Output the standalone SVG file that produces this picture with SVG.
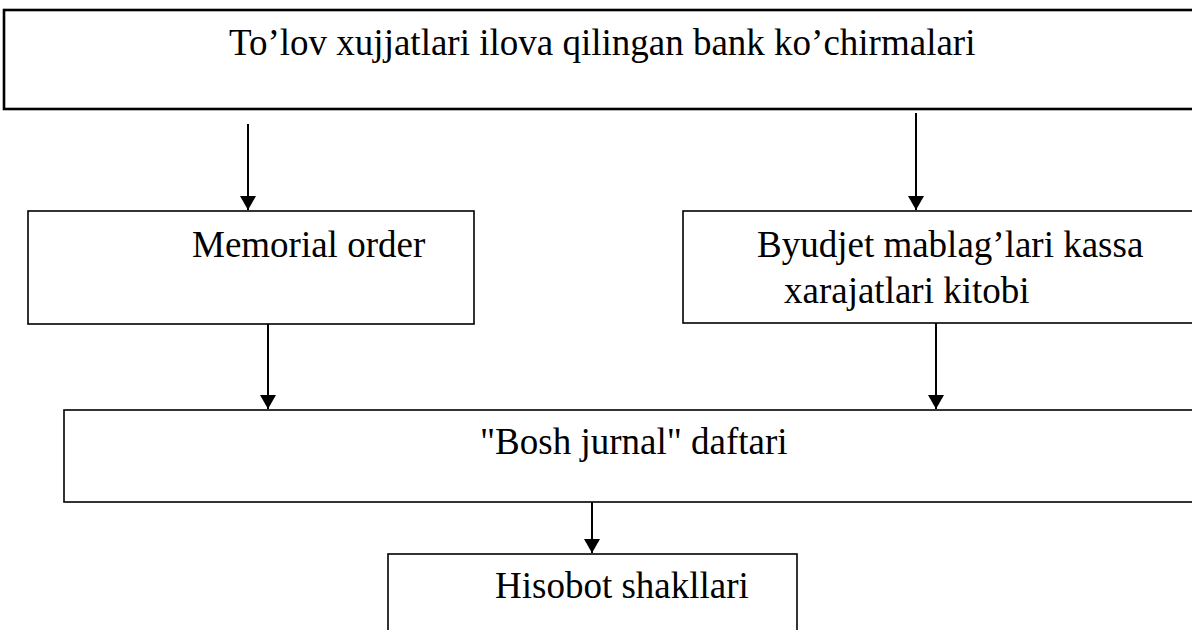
<svg xmlns="http://www.w3.org/2000/svg" width="1192" height="630" viewBox="0 0 1192 630">
<style>
.box{fill:#fff;stroke:#000;stroke-width:1.6}
.top{stroke-width:2.6}
.lbl{font-family:"Liberation Serif","Times New Roman",serif;font-size:37px;fill:#000}
.con{stroke:#000;stroke-width:2;fill:none}
</style>
<defs>
<marker id="ah" viewBox="0 0 14 16" refX="14" refY="8" markerWidth="14" markerHeight="16" markerUnits="userSpaceOnUse" orient="auto">
<path d="M0,0 L14,8 L0,16 Z" fill="#000"/>
</marker>
</defs>
<rect width="1192" height="630" fill="#fff"/>
<g id="n-top">
<rect class="box top" x="4" y="10" width="1200" height="99"/>
<text class="lbl" x="229" y="55">To’lov xujjatlari ilova qilingan bank ko’chirmalari</text>
</g>
<g id="n-memorial">
<rect class="box" x="28" y="211" width="446" height="113"/>
<text class="lbl" x="192" y="257">Memorial order</text>
</g>
<g id="n-byudjet">
<rect class="box" x="683" y="211" width="520" height="112"/>
<text class="lbl" x="757" y="257">Byudjet mablag’lari kassa</text>
<text class="lbl" x="784" y="303">xarajatlari kitobi</text>
</g>
<g id="n-bosh">
<rect class="box" x="64" y="410" width="1140" height="92"/>
<text class="lbl" x="480" y="454">"Bosh jurnal" daftari</text>
</g>
<g id="n-hisobot">
<rect class="box" x="388" y="554" width="409" height="90"/>
<text class="lbl" x="495" y="598">Hisobot shakllari</text>
</g>
<g id="connectors">
<line class="con" x1="248" y1="124" x2="248" y2="210" marker-end="url(#ah)"/>
<line class="con" x1="916" y1="113" x2="916" y2="210" marker-end="url(#ah)"/>
<line class="con" x1="268" y1="324" x2="268" y2="409" marker-end="url(#ah)"/>
<line class="con" x1="936" y1="323" x2="936" y2="409" marker-end="url(#ah)"/>
<line class="con" x1="592" y1="502" x2="592" y2="553" marker-end="url(#ah)"/>
</g>
</svg>
